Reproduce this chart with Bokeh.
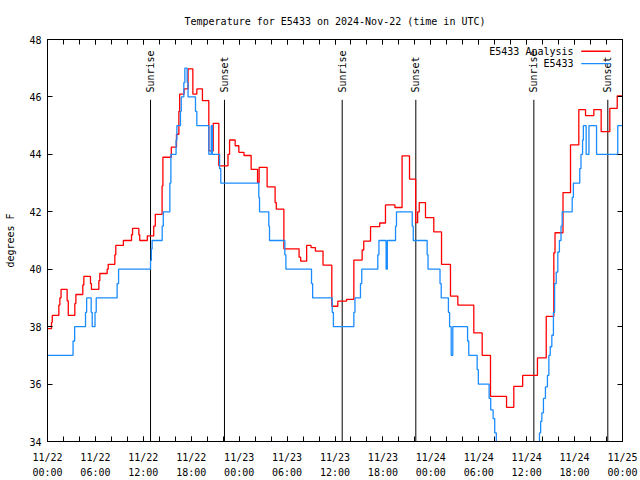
import math
from bokeh.plotting import figure
from bokeh.models import FixedTicker, Range1d, LinearAxis, CustomJSTickFormatter
from bokeh.core.properties import value
from bokeh.embed import file_html
from bokeh.resources import INLINE

FONT = "DejaVu Sans Mono"
RED = "#ff0000"
BLUE = "#1a8cff"

# ---- data (hours since 2024-11-22 00:00 UTC, degrees F) ----
red_h = [0, 0.5, 0.6, 1.42, 1.55, 1.7, 2.46, 2.6, 3.42, 3.55, 4.42, 4.55, 5.38, 5.5,
         6.43, 6.55, 7.47, 7.6, 8.43, 8.55, 9.5, 10.52, 10.65, 11.44, 11.55, 12.5,
         13.3, 13.5, 14.35, 14.45, 15.5, 16.15, 16.45, 16.55, 17.1, 17.6, 18.2, 18.7,
         19.4, 20.2, 20.75, 21.45, 22.6, 22.8, 23.5, 23.96, 24.6, 25.5, 26.3, 26.5,
         27.5, 28.5, 28.65, 29.6, 31.5, 31.7, 32.45, 33.0, 33.55, 34.5, 35.6, 36.35,
         37.45, 38.36, 39.4, 39.6, 40.45, 41.6, 42.32, 43.5, 44.4, 45.33, 46.1, 46.35,
         46.55, 47.33, 48.37, 49.34, 50.46, 51.38, 53.38, 54.43, 55.47, 57.48, 58.39,
         59.5, 61.35, 62.45, 63.4, 63.55, 64.55, 65.49, 66.53, 67.37, 68.41, 69.33,
         70.41, 71.34, 72]
red_v = [37.93, 38.15, 38.39, 38.75, 39.0, 39.3, 38.9, 38.39, 38.8, 39.12, 39.45, 39.75,
         39.5, 39.3, 39.6, 39.85, 40.0, 40.17, 40.5, 40.83, 41.0, 41.2, 41.42, 41.2,
         41.0, 41.16, 41.5, 41.91, 42.9, 43.9, 44.25, 44.7, 45.5, 46.1, 46.28, 46.98,
         46.1, 46.28, 45.87, 44.12, 45.08, 43.6, 44.0, 44.5, 44.3, 44.07, 43.96, 43.48,
         43.02, 43.55, 42.87, 42.32, 42.09, 40.71, 40.42, 40.28, 40.83, 40.75, 40.63,
         40.14, 38.71, 38.89, 38.95, 40.32, 40.67, 40.98, 41.48, 41.61, 42.24, 42.15,
         43.95, 43.14, 41.62, 42.0, 42.32, 41.8, 41.3, 40.17, 39.06, 38.75, 37.78, 37.0,
         35.57, 35.19, 35.92, 36.3, 36.91, 38.36, 40.57, 41.27, 42.67, 44.33, 45.56,
         45.35, 45.56, 44.79, 45.6, 46.04, 46.04]

blue_h = [0, 3.2, 3.4, 4.76, 4.9, 5.47, 5.6, 5.95, 6.1, 8.72, 8.9, 12.9, 13.0, 13.1,
          14.36, 14.5, 15.32, 15.45, 16.1, 16.2, 16.65, 16.75, 17.07, 17.2, 17.49, 17.6,
          18.53, 18.7, 20.2, 20.5, 20.65, 21.55, 21.7, 26.46, 26.55, 27.71, 27.8, 29.72,
          29.85, 33.06, 33.2, 35.65, 35.8, 38.36, 38.5, 39.19, 39.35, 41.36, 41.5, 42.4,
          42.55, 43.58, 43.7, 45.67, 45.8, 47.54, 47.65, 49.15, 49.3, 50.2, 50.35, 50.55,
          50.75, 52.6, 52.75, 53.8, 53.95, 55.3, 55.5, 55.8, 56.0, 56.2, 61.6, 61.75,
          61.9, 62.1, 62.35, 62.6, 62.78, 62.95, 63.15, 63.35, 63.5, 63.7, 63.9, 64.1,
          64.3, 64.45, 65.7, 65.85, 66.65, 66.8, 67.0, 67.1, 67.45, 67.8, 68.75, 71.41, 72]
blue_v = [37, 37.5, 38, 38.5, 39, 38.5, 38, 38.5, 39, 39.5, 40, 40.3, 40.7, 41,
          41.5, 42, 43, 44, 44.5, 45, 45.5, 46, 46.5, 47, 46.5, 46,
          45.5, 45, 44, 45, 44, 43.5, 43, 42.5, 42, 41.5, 41, 40.5,
          40, 39.5, 39, 38.5, 38, 38.5, 39, 39.5, 40, 40.5, 41, 40,
          41, 41.5, 42, 41.5, 41, 40.5, 40, 39.5, 39, 38.5, 38, 37,
          38, 37.5, 37, 36.5, 36, 35.5, 35.1, 34.8, 34.3, 33.5, 34.3, 34.7,
          35.0, 35.5, 35.9, 36.3, 37.0, 37.3, 37.7, 38.5, 39.5, 39.9, 40.6, 41.0,
          41.5, 42, 42.5, 43, 43.5, 44, 44.5, 45, 44, 45, 44, 45, 45]

sun_h = [12.9, 22.16, 36.9, 46.12, 60.9, 70.16]
sun_lbl = ["Sunrise", "Sunset", "Sunrise", "Sunset", "Sunrise", "Sunset"]

x_ticks = [0, 6, 12, 18, 24, 30, 36, 42, 48, 54, 60, 66, 72]
x_tick_lbl = ["11/22\n00:00", "11/22\n06:00", "11/22\n12:00", "11/22\n18:00",
              "11/23\n00:00", "11/23\n06:00", "11/23\n12:00", "11/23\n18:00",
              "11/24\n00:00", "11/24\n06:00", "11/24\n12:00", "11/24\n18:00",
              "11/25\n00:00"]
x_minor = list(range(0, 73, 2))
y_ticks = [34, 36, 38, 40, 42, 44, 46, 48]

series_names = ["E5433 Analysis", "E5433"]

# ---- layout constants ----
SUN_LINE_TOP = 45.9
SUN_LABEL_Y = 46.15
LEG_TEXT_X = 65.87
LEG_LINE_X0 = 66.83
LEG_LINE_X1 = 70.5
LEG_Y = [47.59, 47.16]

p = figure(width=640, height=480, output_backend="svg", toolbar_location=None,
           x_range=Range1d(0, 72), y_range=Range1d(34, 48),
           min_border_left=47, min_border_right=18, min_border_top=39,
           min_border_bottom=39,
           title="Temperature for E5433 on 2024-Nov-22 (time in UTC)")
p.title.align = "center"
p.title.text_font = FONT
p.title.text_font_size = "10px"
p.title.text_font_style = "normal"
p.title.text_color = "black"
p.title.standoff = 26
p.grid.visible = False
p.outline_line_color = "black"
p.outline_line_width = 1
p.background_fill_color = "white"
p.border_fill_color = "white"

def style_axis(ax):
    ax.major_tick_in = 5
    ax.major_tick_out = 0
    ax.minor_tick_in = 5
    ax.minor_tick_out = 0
    ax.axis_line_color = "black"
    ax.major_tick_line_color = "black"
    ax.minor_tick_line_color = "black"
    ax.major_label_text_font = FONT
    ax.major_label_text_font_size = "10px"
    ax.major_label_text_color = "black"

xa = p.xaxis[0]
xa.ticker = FixedTicker(ticks=x_ticks, minor_ticks=x_minor)
xa.major_label_overrides = {t: l for t, l in zip(x_ticks, x_tick_lbl)}
style_axis(xa)
xa.major_label_standoff = 10
xa.major_label_text_line_height = 1.4

ya = p.yaxis[0]
ya.ticker = FixedTicker(ticks=y_ticks, minor_ticks=[])
style_axis(ya)
ya.major_label_standoff = 6
ya.axis_label = "degrees F"
ya.axis_label_text_font = FONT
ya.axis_label_text_font_size = "10px"
ya.axis_label_text_font_style = "normal"
ya.axis_label_text_color = "black"
ya.axis_label_standoff = 10

# mirrored tick marks on top and right (no labels)
blank = CustomJSTickFormatter(code="return ''")
top = LinearAxis(ticker=FixedTicker(ticks=x_ticks, minor_ticks=x_minor), formatter=blank)
style_axis(top)
top.major_label_text_color = None
top.major_label_standoff = 0
p.add_layout(top, "above")
right = LinearAxis(ticker=FixedTicker(ticks=y_ticks, minor_ticks=[]), formatter=blank)
style_axis(right)
right.major_label_text_color = None
right.major_label_standoff = 0
p.add_layout(right, "right")

# sunrise / sunset markers
p.segment(x0=sun_h, y0=[34] * len(sun_h), x1=sun_h, y1=[SUN_LINE_TOP] * len(sun_h),
          line_color="black", line_width=1)
p.text(x=sun_h, y=[SUN_LABEL_Y] * len(sun_h), text=sun_lbl, angle=math.pi / 2,
       text_align="left", text_baseline="middle", text_font=value(FONT),
       text_font_size="10px", text_color="black")

# series
p.step(x=red_h, y=red_v, mode="after", line_color=RED, line_width=1.3)
p.step(x=blue_h, y=blue_v, mode="after", line_color=BLUE, line_width=1.3)

# key
p.text(x=[LEG_TEXT_X] * 2, y=LEG_Y, text=series_names, text_align="right",
       text_baseline="middle", text_font=value(FONT), text_font_size="10px",
       text_color="black")
p.segment(x0=[LEG_LINE_X0] * 2, y0=LEG_Y, x1=[LEG_LINE_X1] * 2, y1=LEG_Y,
          line_color=[RED, BLUE], line_width=1.3)

open("out.html", "w").write(file_html(p, INLINE))
